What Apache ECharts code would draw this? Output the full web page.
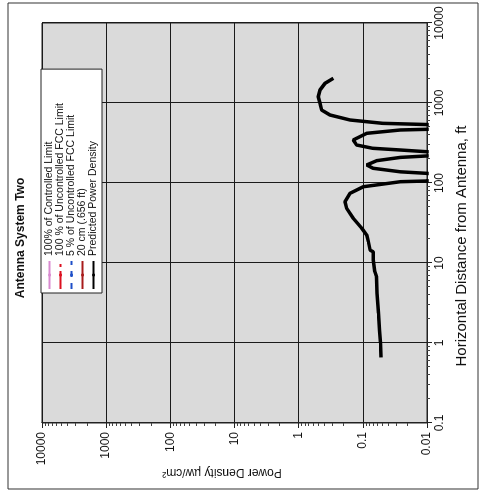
<!DOCTYPE html>
<html>
<head>
<meta charset="utf-8">
<script src="https://cdn.jsdelivr.net/npm/echarts@6/dist/echarts.min.js"></script>
<style>
  html, body { margin: 0; padding: 0; background: #fff; overflow: hidden; }
  /* the scanned page is turned on its side, so the chart is drawn upright and rotated */
  #chart {
    position: absolute;
    left: -6px;
    top: 6px;
    width: 491px;
    height: 479px;
    transform: rotate(-90deg);
  }
</style>
</head>
<body>
<div id="chart"></div>
<script>
// distance from antenna (ft) and predicted power density (uW/cm2)
const distanceFt = [0.66, 1.0, 1.45, 2.35, 4.2, 6.7, 7.8, 10.9, 13.8, 14.5, 18.5, 22.4, 27.2, 36.2, 48.3, 58.4, 74.3, 89.9,
  103.8, 106, 118, 132, 138, 152.7, 168, 190, 209, 218, 232, 246, 258.5, 271.5, 298.5, 345, 418, 460, 469, 505,
  538, 557, 613, 708, 817, 991, 1199, 1454, 1762, 2037];
const powerDensity = [0.052, 0.053, 0.055, 0.057, 0.060, 0.061, 0.065, 0.069, 0.069, 0.077, 0.082, 0.087, 0.104, 0.141, 0.179, 0.19, 0.158, 0.098,
  0.026, 0.01, 0.002, 0.01, 0.026, 0.069, 0.087, 0.061, 0.026, 0.01, 0.002, 0.01, 0.026, 0.07, 0.125, 0.141, 0.087, 0.026, 0.01, 0.002,
  0.01, 0.049, 0.158, 0.325, 0.438, 0.465, 0.494, 0.465, 0.389, 0.288];

// limit lines only appear in the legend, nothing of them is inside the plotted range
const legendNames = [
  "100% of Controlled Limit",
  "100 % of Uncontrolled FCC Limit",
  "5 % of Uncontrolled FCC Limit",
  "20 cm (.656 ft)",
  "Predicted Power Density",
];

const distanceTickLabels = ["0.1", "1", "10", "100", "1000", "10000"];
const powerTickLabels = ["0.01", "0.1", "1", "10", "100", "1000", "10000"];

const font = "Liberation Sans, Arial, sans-serif";

const chart = echarts.init(document.getElementById("chart"));

chart.setOption({
  animation: false,
  textStyle: { fontFamily: font },
  title: {
    text: "Antenna System Two",
    left: 253,
    top: 15,
    padding: 0,
    textAlign: "center",
    textStyle: { fontSize: 12, fontWeight: "bold", color: "#111", fontFamily: font },
  },
  legend: {
    data: legendNames,
    orient: "vertical",
    left: 198,
    top: 41,
    padding: [3, 34, 3, 3],
    itemWidth: 28,
    itemHeight: 4,
    itemGap: 0,
    backgroundColor: "#fff",
    borderColor: "#222",
    borderWidth: 1,
    textStyle: { fontSize: 10.5, lineHeight: 11, color: "#111", fontFamily: font },
  },
  grid: {
    show: true,
    left: 68,
    right: 23,
    top: 42,
    bottom: 52,
    backgroundColor: "#dadada",
    borderColor: "#222",
    borderWidth: 1,
  },
  xAxis: {
    type: "log",
    logBase: 10,
    min: 0.1,
    max: 10000,
    name: "Horizontal Distance from Antenna, ft",
    nameLocation: "middle",
    nameGap: 27,
    nameTextStyle: { fontSize: 15, color: "#111", padding: [0, 46, 0, 0] },
    axisLine: { show: true, lineStyle: { color: "#222", width: 1 } },
    axisTick: { show: true, length: 5, lineStyle: { color: "#222" } },
    minorTick: { show: true, splitNumber: 9, length: 3, lineStyle: { color: "#444" } },
    splitLine: { show: true, lineStyle: { color: "#1a1a1a", width: 1 } },
    axisLabel: {
      fontSize: 12,
      color: "#111",
      margin: 7,
      formatter: function (value) {
        return distanceTickLabels[Math.round(Math.log10(value)) + 1];
      },
    },
  },
  yAxis: {
    type: "log",
    logBase: 10,
    min: 0.01,
    max: 10000,
    name: "Power Density µw/cm²",
    nameLocation: "middle",
    nameGap: 43,
    nameMoveOverlap: false,
    nameTextStyle: { fontSize: 12, color: "#111", padding: [0, 0, 0, 25] },
    axisLine: { show: true, lineStyle: { color: "#222", width: 1 } },
    axisTick: { show: true, length: 5, lineStyle: { color: "#222" } },
    minorTick: { show: true, splitNumber: 9, length: 3, lineStyle: { color: "#444" } },
    splitLine: { show: true, lineStyle: { color: "#1a1a1a", width: 1 } },
    axisLabel: {
      fontSize: 12,
      color: "#111",
      margin: 9,
      formatter: function (value) {
        return powerTickLabels[Math.round(Math.log10(value)) + 2];
      },
    },
  },
  series: [
    {
      name: legendNames[0],
      type: "line",
      symbol: "none",
      data: [],
      itemStyle: { color: "#d98ad0" },
      lineStyle: { color: "#d98ad0", width: 2 },
    },
    {
      name: legendNames[1],
      type: "line",
      symbol: "none",
      data: [],
      itemStyle: { color: "#dc1020" },
      lineStyle: { color: "#dc1020", width: 4, type: [18, 4, 3, 4] },
    },
    {
      name: legendNames[2],
      type: "line",
      symbol: "none",
      data: [],
      itemStyle: { color: "#1e4fc8" },
      lineStyle: { color: "#1e4fc8", width: 4, type: [6, 6] },
    },
    {
      name: legendNames[3],
      type: "line",
      symbol: "none",
      data: [],
      itemStyle: { color: "#a81c1c" },
      lineStyle: { color: "#a81c1c", width: 2 },
    },
    {
      name: legendNames[4],
      type: "line",
      symbol: "none",
      clip: true,
      data: distanceFt.map(function (d, i) {
        return [d, powerDensity[i]];
      }),
      itemStyle: { color: "#000" },
      lineStyle: { color: "#000", width: 3.5 },
    },
  ],
  graphic: [
    {
      type: "rect",
      shape: { x: 2, y: 8, width: 486, height: 470 },
      style: { fill: "none", stroke: "#333", lineWidth: 1 },
      silent: true,
    },
  ],
});
</script>
</body>
</html>
